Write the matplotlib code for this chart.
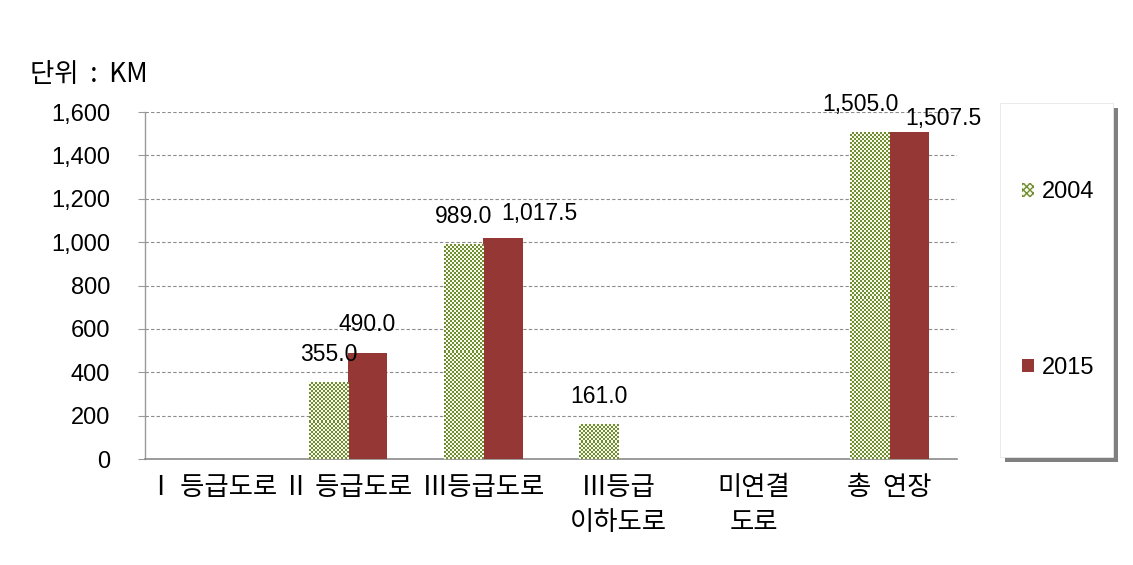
import numpy as np
import matplotlib
matplotlib.use("Agg")
import matplotlib.pyplot as plt
from matplotlib.patches import Rectangle, Patch

plt.rcParams['font.family'] = ['Liberation Sans', 'Noto Sans CJK KR', 'DejaVu Sans']

categories = ["Ⅰ 등급도로", "Ⅱ 등급도로", "Ⅲ등급도로", "Ⅲ등급\n이하도로", "미연결\n도로", "총  연장"]
values_2004 = [np.nan, 355.0, 989.0, 161.0, np.nan, 1505.0]
values_2015 = [np.nan, 490.0, 1017.5, np.nan, np.nan, 1507.5]
series_names = ["2004", "2015"]
yticks = [0, 200, 400, 600, 800, 1000, 1200, 1400, 1600]

W, H = 1133, 565
fig = plt.figure(figsize=(W / 100, H / 100), dpi=100)
ax = fig.add_axes([145 / W, 1 - 459 / H, (957 - 145) / W, (459 - 112) / H])

x = np.arange(len(categories))
bw = 0.29
green = '#6f8c36'
light = '#fbfbea'
red = '#953735'

b1 = ax.bar(x - bw / 2, np.nan_to_num(values_2004), bw, color='none', linewidth=0, zorder=3)
b2 = ax.bar(x + bw / 2, np.nan_to_num(values_2015), bw, color=red, linewidth=0, zorder=3)

ax.set_xlim(-0.5, len(categories) - 0.5)
ax.set_ylim(0, 1600)
ax.set_yticks(yticks)
ax.set_yticklabels([f"{v:,}" for v in yticks], fontsize=17)
ax.set_xticks(x)
ax.set_xticklabels(categories, fontsize=19, family=['Noto Sans CJK KR', 'DejaVu Sans'])
ax.tick_params(axis='x', length=0, pad=11)
ax.tick_params(axis='y', length=5, width=0.8, color='#9a9a9a', direction='out', pad=20)
for lab in ax.get_xticklabels():
    lab.set_linespacing(1.35)
    lab.set_verticalalignment('top')

ax.grid(axis='y', color='#8c8c8c', linestyle=(0, (3, 2)), linewidth=0.8, zorder=0)
for s in ['top', 'right']:
    ax.spines[s].set_visible(False)
ax.spines['left'].set_color('#9a9a9a')
ax.spines['bottom'].set_color('#8a8a8a')
ax.spines['left'].set_linewidth(1.0)
ax.spines['bottom'].set_linewidth(1.2)

# checkered texture for 2004 bars
fig.canvas.draw()
cell = 2.0
for r in b1.patches:
    h = r.get_height()
    if h <= 0:
        continue
    x0 = r.get_x(); x1 = x0 + r.get_width()
    p0 = ax.transData.transform((x0, 0)); p1 = ax.transData.transform((x1, h))
    nx = max(1, int(round((p1[0] - p0[0]) / cell)))
    ny = max(1, int(round((p1[1] - p0[1]) / cell)))
    checker = (np.indices((ny, nx)).sum(axis=0) % 2).astype(float)
    rgb = np.empty((ny, nx, 3))
    rgb[:] = matplotlib.colors.to_rgb(light)
    rgb[checker == 1] = matplotlib.colors.to_rgb(green)
    ax.imshow(rgb, extent=(x0, x1, 0, h), aspect='auto', interpolation='nearest', zorder=3)
ax.set_xlim(-0.5, len(categories) - 0.5)
ax.set_ylim(0, 1600)

# data labels
lab_off_2004 = [(0, 0), (0, 20), (0, 20), (0, 20), (0, 0), (-7, 20)]
lab_off_2015 = [(0, 0), (0, 20), (26, 18), (0, 0), (0, 0), (25, 10)]
for i, v in enumerate(values_2004):
    if not np.isnan(v):
        ax.annotate(f"{v:,.1f}", (x[i] - bw / 2, v), xytext=lab_off_2004[i], textcoords='offset points',
                    ha='center', va='center', fontsize=16.5, zorder=5)
for i, v in enumerate(values_2015):
    if not np.isnan(v):
        ax.annotate(f"{v:,.1f}", (x[i] + bw / 2, v), xytext=lab_off_2015[i], textcoords='offset points',
                    ha='center', va='center', fontsize=16.5, zorder=5)

# unit label
fig.text(30 / W, 1 - 75 / H, "단위  :  KM", fontsize=19, ha='left', va='center',
         family=['Noto Sans CJK KR', 'DejaVu Sans'])

# legend box with shadow
lx0, ly0, lx1, ly1 = 1000, 103, 1113, 457
fig.patches.append(Rectangle((lx0 / W + 5 / W, 1 - (ly1 + 5) / H), (lx1 - lx0) / W, (ly1 - ly0) / H,
                             transform=fig.transFigure, facecolor='#555555', edgecolor='none', alpha=0.75, zorder=0))
fig.patches.append(Rectangle((lx0 / W, 1 - ly1 / H), (lx1 - lx0) / W, (ly1 - ly0) / H,
                             transform=fig.transFigure, facecolor='white', edgecolor='#e6e6e6', linewidth=0.6, zorder=1))
plt.rcParams['hatch.color'] = green
handles = [Patch(facecolor=light, edgecolor=green, hatch='xxxxx', linewidth=0),
           Patch(facecolor=red, edgecolor='none')]
leg = fig.legend(handles, series_names, loc='center left', bbox_to_anchor=(1022 / W, 1 - 280 / H),
                 frameon=False, fontsize=17, labelspacing=6.5, handlelength=0.5, handleheight=0.5,
                 handletextpad=0.35, borderaxespad=0, borderpad=0)

fig.savefig("out.png", dpi=100)
